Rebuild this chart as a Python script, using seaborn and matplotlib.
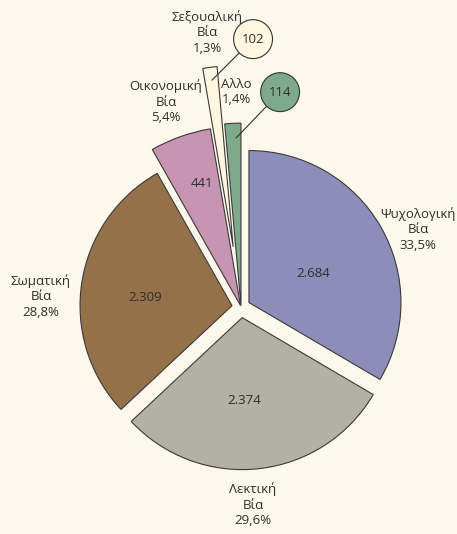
import matplotlib
matplotlib.use("Agg")
import matplotlib.pyplot as plt
from matplotlib.patches import Circle
import seaborn as sns

# data
categories = ["Ψυχολογική\nΒία", "Λεκτική\nΒία", "Σωματική\nΒία",
              "Οικονομική\nΒία", "Σεξουαλική\nΒία", "Αλλο"]
counts = [2684, 2374, 2309, 441, 102, 114]
percent_labels = ["33,5%", "29,6%", "28,8%", "5,4%", "1,3%", "1,4%"]

colors = ["#8D8DB9", "#B2B1A3", "#957149", "#C794B2", "#FEF6DF", "#7EAA8B"]
BG = "#FDF7EC"
TXT = "#2e2e2e"

# layout (data units, pie radius 1)
explode = [0.06, 0.07, 0.06, 0.01, 0.40, 0.01]
radii = [1.0, 1.0, 1.0, 1.18, 1.19, 1.20]
name_pos = [(1.164, 0.513), (0.079, -1.303), (-1.316, 0.072),
            (-0.493, 1.349), (-0.224, 1.809), (-0.033, 1.414)]
value_pos = [(0.474, 0.224), (0.020, -0.618), (-0.628, 0.066),
             (-0.257, 0.816), (0.079, 1.763), (0.257, 1.414)]
# small slices get their value in a bubble with a leader line
bubble_target = {4: (-0.191, 1.493), 5: (-0.033, 1.112)}
BUBBLE_R = 0.128

sns.set_theme(style="white")
plt.rcParams["font.family"] = ["Open Sans", "DejaVu Sans"]

fig = plt.figure(figsize=(4.57, 5.34), dpi=100, facecolor=BG)
ax = fig.add_axes([0, 0, 1, 1])
ax.set_facecolor(BG)

wedges, _ = ax.pie(counts, colors=colors, explode=explode, startangle=90,
                   counterclock=False,
                   wedgeprops=dict(edgecolor="#3a3a3a", linewidth=0.8))
for w, r in zip(wedges, radii):
    w.set_radius(r)

for i, (name, pct) in enumerate(zip(categories, percent_labels)):
    x, y = name_pos[i]
    ax.text(x, y, f"{name}\n{pct}", ha="center", va="center", fontsize=9.5,
            color=TXT, linespacing=1.25)

for i, v in enumerate(counts):
    x, y = value_pos[i]
    txt = f"{v:,}".replace(",", ".")
    if i in bubble_target:
        tx, ty = bubble_target[i]
        dx, dy = tx - x, ty - y
        d = (dx ** 2 + dy ** 2) ** 0.5
        ax.plot([x + dx / d * BUBBLE_R, tx], [y + dy / d * BUBBLE_R, ty],
                color="#333333", lw=0.8, zorder=4)
        ax.add_patch(Circle((x, y), BUBBLE_R, facecolor=colors[i],
                            edgecolor="#333333", lw=0.8, zorder=5))
    ax.text(x, y, txt, ha="center", va="center", fontsize=9.5, color=TXT,
            zorder=6)

ax.set_xlim(-1.586, 1.421)
ax.set_ylim(-1.493, 2.020)
ax.set_aspect("equal")
ax.axis("off")

fig.savefig("out.png", dpi=100, facecolor=BG)
